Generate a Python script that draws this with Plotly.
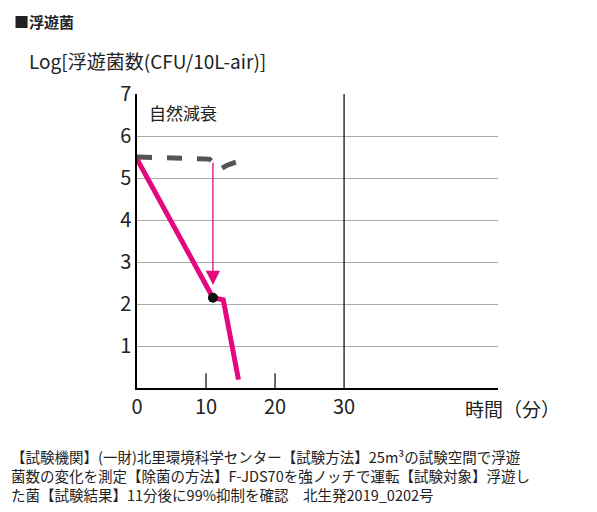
import plotly.graph_objects as go

treat_x = [0, 11, 12.5, 14.7]
treat_y = [5.45, 2.15, 2.1, 0.2]
nat_x = [0, 10.5, 11.5, 12, 13, 14.7]
nat_y = [5.5, 5.45, 5.3, 5.2, 5.3, 5.4]
point_x = [11]
point_y = [2.15]
y_ticks = [1, 2, 3, 4, 5, 6, 7]
x_ticks = [0, 10, 20, 30]

F = "Noto Sans CJK JP"
fig = go.Figure()
fig.add_trace(go.Scatter(x=nat_x, y=nat_y, mode="lines",
    line=dict(color="#555555", width=5, dash="dash"), hoverinfo="skip"))
fig.add_trace(go.Scatter(x=treat_x, y=treat_y, mode="lines",
    line=dict(color="#e4087f", width=5), hoverinfo="skip"))
fig.add_trace(go.Scatter(x=point_x, y=point_y, mode="markers",
    marker=dict(color="#111111", size=10), hoverinfo="skip"))

fig.add_annotation(x=11, y=2.45, ax=11, ay=5.4, xref="x", yref="y", axref="x", ayref="y",
    showarrow=True, arrowhead=2, arrowsize=2.2, arrowwidth=1.3, arrowcolor="#e4087f", text="")
fig.add_shape(type="line", x0=30, x1=30, y0=0, y1=7, line=dict(color="black", width=1.2))
for xt in [10, 20]:
    fig.add_shape(type="line", x0=xt, x1=xt, y0=0, y1=0.35, line=dict(color="black", width=1.2))

fig.add_annotation(x=1.5, y=6.55, xref="x", yref="y", text="自然減衰", showarrow=False,
    xanchor="left", font=dict(family=F, size=17, color="#222"))
fig.add_annotation(x=-0.345, y=1.29, xref="paper", yref="paper", text="<b>■浮遊菌</b>",
    showarrow=False, xanchor="left", yanchor="top", font=dict(family=F, size=15, color="#222"))
fig.add_annotation(x=-0.305, y=1.165, xref="paper", yref="paper", text="Log[浮遊菌数(CFU/10L-air)]",
    showarrow=False, xanchor="left", yanchor="top", font=dict(family=F, size=19, color="#222"))
fig.add_annotation(x=1.04, y=-0.07, xref="paper", yref="paper", text="時間（分）",
    showarrow=False, xanchor="center", yanchor="middle", font=dict(family=F, size=19, color="#222"))
fig.add_annotation(x=-0.355, y=-0.19, xref="paper", yref="paper",
    text="【試験機関】(一財)北里環境科学センター【試験方法】25m³の試験空間で浮遊<br>菌数の変化を測定【除菌の方法】F-JDS70を強ノッチで運転【試験対象】浮遊し<br>た菌【試験結果】11分後に99%抑制を確認　北生発2019_0202号",
    showarrow=False, xanchor="left", yanchor="top", align="left",
    font=dict(family=F, size=14.5, color="#222"))

fig.update_xaxes(range=[0, 52.3], tickvals=x_ticks, showgrid=False, showline=True,
    linecolor="black", linewidth=1.5, ticks="", tickfont=dict(family=F, size=20, color="#222"),
    zeroline=False, fixedrange=True)
fig.update_yaxes(range=[0, 7], tickvals=y_ticks, showgrid=True, gridcolor="#aaaaaa", gridwidth=1.2,
    showline=True, linecolor="black", linewidth=1.5, ticks="", tickfont=dict(family=F, size=20, color="#222"),
    zeroline=False, fixedrange=True)
fig.update_layout(width=597, height=512, showlegend=False, plot_bgcolor="white", paper_bgcolor="white",
    margin=dict(l=129, r=107, t=86, b=132))
fig.write_html("out.html")
